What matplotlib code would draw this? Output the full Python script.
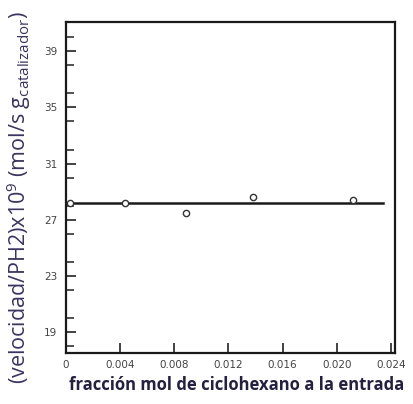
import numpy as np
import matplotlib.pyplot as plt
from matplotlib.ticker import MultipleLocator

plt.rcParams['mathtext.fontset'] = 'custom'
plt.rcParams['mathtext.rm'] = 'Open Sans'
plt.rcParams['mathtext.it'] = 'Open Sans'

fraccion = [0.0003, 0.0044, 0.0089, 0.0138, 0.0212]
velocidad = [28.2, 28.2, 27.5, 28.6, 28.4]

# Linea de ajuste (constante)
linea_x = [0.0, 0.0234]
linea_y = [28.2, 28.2]

x_ticks = [0, 0.004, 0.008, 0.012, 0.016, 0.020, 0.024]
x_labels = ["0", "0.004", "0.008", "0.012", "0.016", "0.020", "0.024"]
y_ticks = [19, 23, 27, 31, 35, 39]

fig = plt.figure(figsize=(4.14, 4.04), dpi=100)
ax = fig.add_axes([0.159, 0.126, 0.795, 0.82])

ax.plot(linea_x, linea_y, color='#1a1a1a', linewidth=1.8, zorder=2)
ax.plot(fraccion, velocidad, linestyle='none', marker='o', markersize=4.5,
        markerfacecolor='white', markeredgecolor='#333333', markeredgewidth=1.0, zorder=3)

ax.set_xlim(0, 0.0243)
ax.set_ylim(17.5, 41.1)

ax.set_xticks(x_ticks)
ax.set_xticklabels(x_labels)
ax.set_yticks(y_ticks)
ax.yaxis.set_minor_locator(MultipleLocator(2))

ax.tick_params(axis='both', which='major', direction='in', length=7, width=1.2,
               labelsize=7.5, labelcolor='#444444', color='#222222')
ax.tick_params(axis='y', which='minor', direction='in', length=6, width=1.1, color='#222222')
ax.tick_params(axis='x', pad=5)
ax.tick_params(axis='y', pad=6)

for s in ax.spines.values():
    s.set_linewidth(1.6)
    s.set_color('#1a1a1a')

ax.set_xlabel("fracción mol de ciclohexano a la entrada", fontsize=12,
              fontweight='bold', family='Open Sans', color='#24203f')
ax.xaxis.set_label_coords(0.518, -0.068)
ax.set_ylabel(r"(velocidad/PH2)x10$^9$ (mol/s g$_{\mathrm{catalizador}}$)", fontsize=15.5,
              family='Open Sans', color='#3a3560')
ax.yaxis.set_label_coords(-0.1, 0.468)

plt.savefig("out.png", dpi=100)
